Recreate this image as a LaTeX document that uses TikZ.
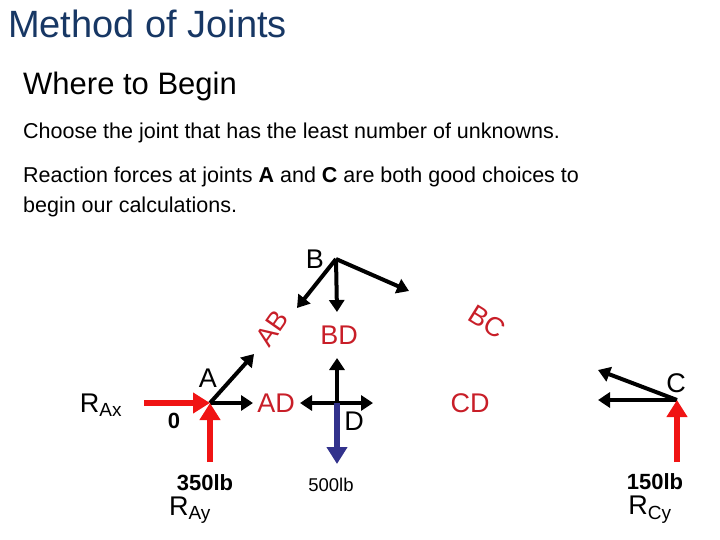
\documentclass[tikz,border=0pt]{standalone}
\usepackage{fontspec}
\setmainfont{Liberation Sans}
\usetikzlibrary{arrows.meta}
\definecolor{ttl}{RGB}{23,55,100}
\definecolor{lred}{RGB}{200,30,40}
\definecolor{fred}{RGB}{240,20,20}
\definecolor{fblue}{RGB}{50,50,140}
\begin{document}
\begin{tikzpicture}[x=1pt,y=-1pt,
  txt/.style={anchor=base west,inner sep=0},
  lbl/.style={font=\fontsize{27}{27}\selectfont,inner sep=0},
  mlbl/.style={font=\fontsize{27}{27}\selectfont,inner sep=0,text=lred},
  mem/.style={line width=4pt,-{Triangle[length=12pt,width=15pt]}},
  react/.style={line width=6pt,fred,-{Triangle[length=17pt,width=20pt]}},
  load/.style={line width=6pt,fblue,-{Triangle[length=17pt,width=20pt]}}]
\useasboundingbox (0,0) rectangle (720,540);
\node[txt,text=ttl,font=\fontsize{38}{38}\selectfont] (t) at (8,38) {Method of Joints};
\node[txt,font=\fontsize{31}{31}\selectfont] (w) at (23,95) {Where to Begin};
\node[txt,font=\fontsize{21.5}{21.5}\selectfont] (c1) at (23,139) {Choose the joint that has the least number of unknowns.};
\node[txt,font=\fontsize{21.5}{21.5}\selectfont] (c2) at (23,183) {Reaction forces at joints \textbf{A} and \textbf{C} are both good choices to};
\node[txt,font=\fontsize{21.5}{21.5}\selectfont] (c3) at (23,213) {begin our calculations.};
% joints
\coordinate (B) at (336,259);
\coordinate (A) at (210,403);
\coordinate (D) at (337,403);
\coordinate (C) at (677,400);
% B arrows
\coordinate (b1) at (297,308); \coordinate (b2) at (337,312); \coordinate (b3) at (409,291);
\draw[mem] (B) -- (b1); \draw[mem] (B) -- (b2); \draw[mem] (B) -- (b3);
\node[lbl] (Bl) at (315,259) {B};
% A arrows
\coordinate (a1) at (254,354); \coordinate (a2) at (253,403);
\draw[mem] (A) -- (a1); \draw[mem] (A) -- (a2);
\node[lbl] (Al) at (208,378) {A};
\coordinate (rx) at (144,403); \coordinate (ry) at (210,462);
\draw[react] (rx) -- (A); \draw[react] (ry) -- (A);
\node[font=\fontsize{22}{22}\selectfont\bfseries,inner sep=0] (z) at (174,421) {0};
\node[lbl] (RAx) at (101,405) {R\textsubscript{\fontsize{19}{19}\selectfont Ax}};
\node[font=\fontsize{22}{22}\selectfont\bfseries,inner sep=0] (l350) at (205,483) {350lb};
\node[lbl] (RAy) at (190,510) {R\textsubscript{\fontsize{19}{19}\selectfont Ay}};
% D arrows
\coordinate (d1) at (300,403); \coordinate (d2) at (373,403); \coordinate (d3) at (337,358); \coordinate (d4) at (337,464);
\draw[mem] (D) -- (d1); \draw[mem] (D) -- (d2); \draw[mem] (D) -- (d3);
\draw[load] (D) -- (d4);
\node[lbl] (Dl) at (354,421) {D};
\node[font=\fontsize{18.5}{18.5}\selectfont,inner sep=0] (l500) at (331,485) {500lb};
% C arrows
\coordinate (c1a) at (598,400); \coordinate (c2a) at (598,370); \coordinate (cy) at (677,462);
\draw[mem] (C) -- (c1a); \draw[mem] (C) -- (c2a);
\draw[react] (cy) -- (C);
\node[lbl] (Cl) at (676,383) {C};
\node[font=\fontsize{22}{22}\selectfont\bfseries,inner sep=0] (l150) at (655,482) {150lb};
\node[lbl] (RCy) at (650,510) {R\textsubscript{\fontsize{19}{19}\selectfont Cy}};
% member labels
\node[mlbl,rotate=55] (AB) at (272,328) {AB};
\node[mlbl] (BD) at (339,335) {BD};
\node[mlbl,rotate=-32] (BC) at (487,322) {BC};
\node[mlbl] (AD) at (276,403) {AD};
\node[mlbl] (CD) at (470,403) {CD};
\end{tikzpicture}
\end{document}
